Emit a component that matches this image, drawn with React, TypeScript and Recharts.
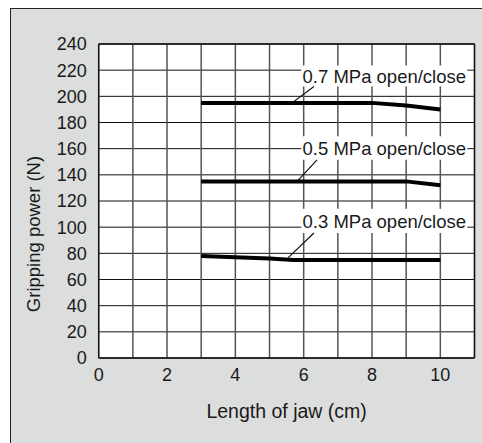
import {
  CartesianGrid,
  Label,
  Line,
  LineChart,
  ReferenceArea,
  ReferenceLine,
  XAxis,
  YAxis,
} from 'recharts'

// jaw length (cm) / gripping power (N) per supply pressure
const len07 = [3, 8, 9, 10]
const grip07 = [195, 195, 193, 190]
const len05 = [3, 9, 10]
const grip05 = [135, 135, 132]
const len03 = [3, 4, 5, 5.7, 10]
const grip03 = [78, 77, 76, 75, 75]

const xTicks = [0, 1, 2, 3, 4, 5, 6, 7, 8, 9, 10, 11]
const yTicks = [0, 20, 40, 60, 80, 100, 120, 140, 160, 180, 200, 220, 240]

const seriesNames = ['0.7 MPa open/close', '0.5 MPa open/close', '0.3 MPa open/close']

// label boxes and leader lines, in data units
const labelBoxes = [
  { y1: 207.5, y2: 223.5 },
  { y1: 151.5, y2: 169.5 },
  { y1: 95.5, y2: 114 },
]
const leaders = [
  [{ x: 5.66, y: 195 }, { x: 6.3, y: 207.5 }],
  [{ x: 5.81, y: 135 }, { x: 6.39, y: 151.5 }],
  [{ x: 5.54, y: 76.5 }, { x: 6.3, y: 95.5 }],
]

const toPoints = (xs: number[], ys: number[]) =>
  xs.map((x, i) => ({ x, y: ys[i] }))

const series = [
  toPoints(len07, grip07),
  toPoints(len05, grip05),
  toPoints(len03, grip03),
]

const font = '"Liberation Sans", Arial, sans-serif'
const ink = '#1a1a1a'

function YTitle() {
  return (
    <text
      x={33}
      y={234}
      transform="rotate(-90, 33, 234)"
      textAnchor="middle"
      dominantBaseline="central"
      style={{ fontSize: 18.5, fill: ink, fontFamily: font }}
    >
      Gripping power (N)
    </text>
  )
}

export default function App() {
  return (
    <div
      style={{
        position: 'absolute',
        left: 0,
        top: 0,
        width: 482,
        height: 443,
        overflow: 'hidden',
        background: '#fff',
        fontFamily: font,
      }}
    >
      <div
        style={{
          position: 'absolute',
          left: 10,
          top: 8,
          width: 500,
          height: 460,
          background: '#dcdedd',
          borderLeft: '1.5px solid #222',
          borderTop: '1.5px solid #222',
        }}
      />
      <div style={{ position: 'absolute', left: 0, top: 0 }}>
        <LineChart
          width={482}
          height={443}
          margin={{ top: 44, right: 7.5, left: 0, bottom: 0 }}
        >
          <CartesianGrid fill="#fff" stroke="#111" vertical={false} />
          <CartesianGrid
            stroke="#555"
            strokeWidth={1.5}
            horizontal={false}
          />
          <XAxis
            type="number"
            dataKey="x"
            domain={[0, 11]}
            ticks={xTicks}
            interval={0}
            tickFormatter={(v: number) => (v % 2 === 0 && v <= 10 ? String(v) : '')}
            tick={{ fontSize: 18, fill: ink, fontFamily: font }}
            tickLine={false}
            tickMargin={4}
            axisLine={{ stroke: '#111', strokeWidth: 1.3 }}
            height={85}
            allowDataOverflow
          >
            <Label
              value="Length of jaw (cm)"
              position="insideTop"
              offset={46}
              style={{ fontSize: 19.5, fill: ink, fontFamily: font }}
            />
          </XAxis>
          <YAxis
            type="number"
            domain={[0, 240]}
            ticks={yTicks}
            interval={0}
            tick={{ fontSize: 18, fill: ink, fontFamily: font }}
            tickLine={false}
            tickMargin={6}
            axisLine={{ stroke: '#111', strokeWidth: 1.3 }}
            width={98.7}
            allowDataOverflow
          >
            <Label content={<YTitle />} />
          </YAxis>
          <ReferenceLine x={11} stroke="#111" strokeWidth={1.3} />
          <ReferenceLine y={240} stroke="#111" strokeWidth={1.3} />
          {labelBoxes.map((b, i) => (
            <ReferenceArea
              key={`box${i}`}
              x1={5.93}
              x2={10.79}
              y1={b.y1}
              y2={b.y2}
              fill="#fff"
              fillOpacity={1}
              stroke="none"
            >
              <Label
                value={seriesNames[i]}
                position="center"
                style={{ fontSize: 18.5, fill: ink, fontFamily: font }}
              />
            </ReferenceArea>
          ))}
          {leaders.map((seg, i) => (
            <ReferenceLine
              key={`lead${i}`}
              segment={seg}
              stroke="#111"
              strokeWidth={1.2}
            />
          ))}
          {series.map((d, i) => (
            <Line
              key={seriesNames[i]}
              data={d}
              dataKey="y"
              name={seriesNames[i]}
              type="linear"
              stroke="#000"
              strokeWidth={4}
              dot={false}
              activeDot={false}
              isAnimationActive={false}
            />
          ))}
        </LineChart>
      </div>
    </div>
  )
}
